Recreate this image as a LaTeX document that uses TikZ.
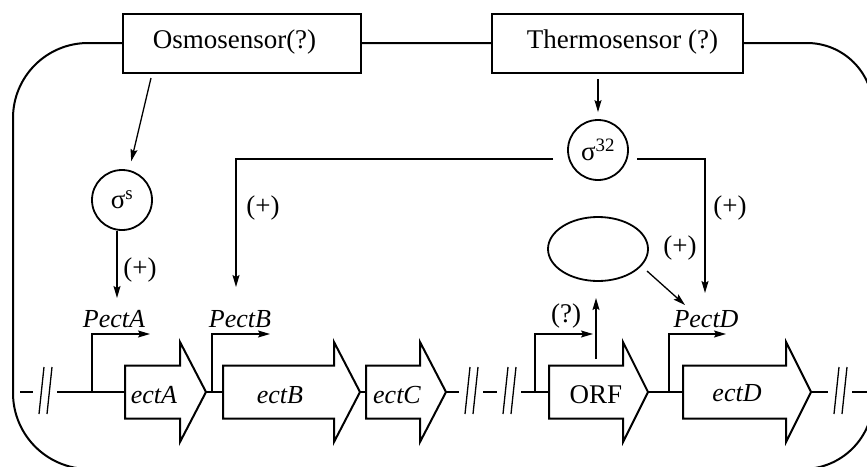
\documentclass[tikz,border=0pt]{standalone}
\usepackage{fontspec}
\setmainfont{Liberation Serif}
\usetikzlibrary{arrows.meta,shapes.geometric}
\newcommand{\genearrow}[3]{\draw[gene] (#1,365.5) -- (#2,365.5) -- (#2,342) -- (#3,392) -- (#2,442) -- (#2,418.5) -- (#1,418.5) -- cycle;}
\newcommand{\genebreak}[1]{\draw[thinline] ({#1-6},414) -- ({#1-1},367) ({#1+2},414) -- ({#1+7},367);}
\begin{document}
\begin{tikzpicture}[x=1pt,y=-1pt,
  conn/.style={line width=1.3pt,-{Stealth[length=12pt,width=7pt,inset=2pt]}},
  thinline/.style={line width=1.3pt},
  gene/.style={line width=2pt,line join=miter,fill=white},
  membrane/.style={line width=2pt},
  sensor/.style={draw,line width=2pt,fill=white,minimum width=#1,minimum height=59pt,inner sep=0pt},
  sigma/.style={draw,circle,line width=1.8pt,minimum size=60pt,inner sep=0pt,fill=white,font=\fontsize{27}{32}\selectfont},
  lab/.style={font=\fontsize{27}{32}\selectfont,inner sep=0pt},
  ilab/.style={font=\fontsize{26}{31}\selectfont\itshape,inner sep=0pt,anchor=base},
]
\useasboundingbox (0,0) rectangle (867,466);

% cell membrane
\draw[membrane] (13,118) arc[start angle=180,end angle=270,radius=75]
  -- (807,43) arc[start angle=270,end angle=360,radius=66]
  -- (873,399) arc[start angle=0,end angle=90,radius=70]
  -- (89,469) arc[start angle=90,end angle=180,radius=76] -- cycle;

% sensors
\node[sensor=238pt] (osmo) at (242,43.5) {};
\node[lab] (osmotxt) at (234.5,42) {Osmosensor(?)};
\node[sensor=251pt] (thermo) at (617.5,43.5) {};
\node[lab] (thermotxt) at (622.5,42) {Thermosensor (?)};

% sigma factors
\node[sigma] (sigS) at (122,200) {σ\textsuperscript{s}};
\node[sigma] (sig32) at (598,150) {σ\textsuperscript{32}};

% ellipse (unknown regulator)
\node[draw,ellipse,line width=1.8pt,minimum width=100pt,minimum height=64pt,inner sep=0pt] (ell) at (598,249) {};

% coordinates for connectors
\coordinate (o1) at (151,78);
\coordinate (tA) at (117,298);
\coordinate (b1) at (553,159);
\coordinate (b2) at (637,159);
\coordinate (tB) at (236,287);
\coordinate (tD) at (705,293);
\coordinate (e1) at (647,271);
\coordinate (tE) at (685,305);
\coordinate (u1) at (596,359);
\coordinate (u2) at (596,298);

% regulatory connectors
\draw[conn,shorten >=9pt] (o1) -- (sigS);
\draw[conn,shorten <=5pt,shorten >=7pt] (thermo.south -| sig32.north) -- (sig32.north);
\draw[conn] (sigS.south -| tA) -- (tA);
\draw[conn] (b1) -| (tB);
\draw[conn] (b2) -| (tD);
\draw[conn] (e1) -- (tE);
\draw[conn] (u1) -- (u2);

% (+) labels
\node[lab] (p1) at (140,270) {(+)};
\node[lab] (p2) at (263,208) {(+)};
\node[lab] (p3) at (730,208) {(+)};
\node[lab] (p4) at (680,248) {(+)};

% gene line
\draw[thinline] (20,392) -- (33,392);
\draw[thinline] (57,392) -- (125,392);
\draw[thinline] (206,392) -- (223,392);
\draw[thinline] (360,392) -- (366,392);
\draw[thinline] (446,392) -- (459,392);
\draw[thinline] (483,392) -- (497,392);
\draw[thinline] (521,392) -- (549,392);
\draw[thinline] (648,392) -- (683,392);
\draw[thinline] (811,392) -- (828,392);
\draw[thinline] (852,392) -- (870,392);
\genebreak{45}
\genebreak{471}
\genebreak{509}
\genebreak{840}

% promoters
\draw[conn] (92,392) |- (150,334);
\draw[conn] (212,392) |- (270,334);
\draw[conn] (535,392) |- (593,334);
\draw[conn] (669,392) |- (726,334);
\node[ilab] (pectA) at (114,327) {PectA};
\node[ilab] (pectB) at (240,327) {PectB};
\node[lab,anchor=base] (q) at (566,322) {(?)};
\node[ilab] (pectD) at (706,327) {PectD};

% genes
\genearrow{125}{180}{206}
\genearrow{223}{334}{360}
\genearrow{366}{420}{446}
\genearrow{549}{623}{648}
\genearrow{683}{786}{811}
\node[ilab] (ectA) at (154,403) {ectA};
\node[ilab] (ectB) at (280,403) {ectB};
\node[ilab] (ectC) at (397,403) {ectC};
\node[lab,anchor=base] (orf) at (596,403) {ORF};
\node[ilab] (ectD) at (737,401) {ectD};
\end{tikzpicture}
\end{document}
